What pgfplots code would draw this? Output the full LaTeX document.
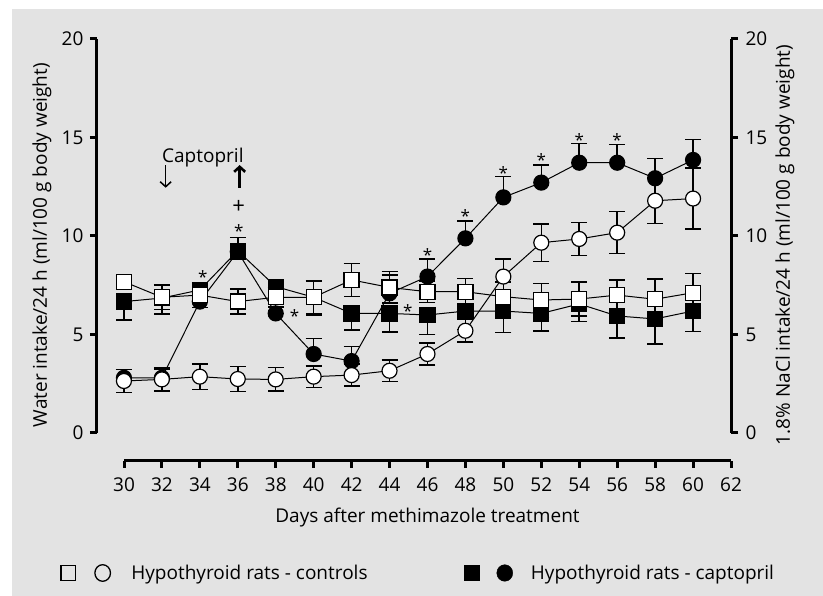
\documentclass[border=0pt]{standalone}
\usepackage{pgfplots}
\usepackage{pgfplotstable}
\pgfplotsset{compat=1.18}
\usepackage{fontspec}
\setmainfont{Open Sans}
\usetikzlibrary{arrows.meta}
\definecolor{bg}{RGB}{227,227,227}

% controls, water (open squares)
\pgfplotstableread{
day val err
30 7.68 0.30
32 6.89 0.62
34 7.00 0.64
36 6.67 0.63
38 6.89 0.50
40 6.89 0.82
42 7.77 0.84
44 7.39 0.80
46 7.17 0.55
48 7.17 0.68
50 6.92 0.75
52 6.75 0.85
54 6.80 0.86
56 7.00 0.77
58 6.79 1.03
60 7.12 0.97
}\ctrlwater

% controls, NaCl (open circles)
\pgfplotstableread{
day val err
30 2.64 0.58
32 2.72 0.60
34 2.86 0.65
36 2.74 0.63
38 2.72 0.60
40 2.86 0.55
42 2.94 0.55
44 3.16 0.55
46 4.01 0.55
48 5.19 0.56
50 7.94 0.88
52 9.66 0.95
54 9.85 0.83
56 10.17 1.07
58 11.79 1.16
60 11.90 1.55
}\ctrlnacl

% captopril, water (filled squares)
\pgfplotstableread{
day val err
30 6.67 0.93
32 6.85 0.80
34 7.26 0.50
36 9.25 0.45
38 7.43 0.50
40 6.89 0.90
42 6.07 0.85
44 6.07 0.95
46 5.99 0.98
48 6.19 0.93
50 6.19 1.10
52 6.07 0.88
54 6.55 0.90
56 5.94 1.13
58 5.79 1.26
60 6.19 1.05
}\captwater

% captopril, NaCl (filled circles)
\pgfplotstableread{
day val err
30 2.80 0.43
32 2.80 0.45
34 6.67 0.40
36 9.20 0.72
38 6.07 0.50
40 4.01 0.78
42 3.65 0.73
44 7.09 0.93
46 7.94 0.88
48 9.88 0.88
50 11.96 1.05
52 12.71 0.90
54 13.72 0.98
56 13.72 0.93
58 12.93 1.00
60 13.86 1.05
}\captnacl

\newcommand{\txt}{\fontsize{19}{22}\selectfont}

\tikzset{starlbl/.style={font=\fontsize{17}{20}\selectfont, anchor=center, yshift=-3.2pt, inner sep=0pt}}

\pgfplotsset{
  yax/.style={
    scale only axis, width=634pt, height=394pt,
    at={(97pt,163pt)}, anchor=south west,
    xmin=28.58, xmax=62, ymin=0, ymax=20,
    axis x line=none, xtick=\empty,
    ytick={0,5,...,20},
    axis line style={line width=3pt},
    tick style={line width=3pt, black},
    tick align=outside, major tick length=7pt,
    /pgf/number format/assume math mode=true,
    tick label style={font=\txt},
    label style={font=\txt},
    clip=false,
  },
  ebar/.style={error bars/.cd, y dir=#1, y explicit,
    error bar style={line width=1.5pt, black},
    error mark options={rotate=90, mark size=8pt, line width=1.5pt, black}},
  ser/.style={black, line width=1pt, mark size=7.5pt,
    mark options={draw=black, fill=#1, line width=1.2pt, solid}},
}

\begin{document}
\begin{tikzpicture}
\fill[white] (0pt,0pt) rectangle (823pt,596pt);
\fill[bg] (12pt,0pt) rectangle (823pt,587pt);

% left axis with the data
\begin{axis}[yax, axis y line*=left,
  yticklabel style={xshift=-3pt},
  ylabel={Water intake/24 h (ml/100 g body weight)},
  ylabel style={at={(axis description cs:-0.0868,0.477)}, anchor=center}]
\addplot[ser=black, mark=*, ebar=plus] table[x=day, y=val, y error=err] {\captnacl};
\addplot[ser=black, mark=square*, ebar=minus] table[x=day, y=val, y error=err] {\captwater};
\addplot[ser=white, mark=square*, ebar=both] table[x=day, y=val, y error=err] {\ctrlwater};
\addplot[ser=white, mark=*, ebar=both] table[x=day, y=val, y error=err] {\ctrlnacl};

\node[font=\txt] at (axis cs:34.16,14.0) {Captopril};
\draw[line width=1.5pt, -{Straight Barb[length=5pt, width=11pt, line width=1.5pt]}] (axis cs:32.2,13.6) -- (axis cs:32.2,12.45);
\draw[line width=2.6pt, -{Straight Barb[length=5pt, width=11pt, line width=2.6pt]}] (axis cs:36.1,12.45) -- (axis cs:36.1,13.6);

\node[starlbl] at (axis cs:34.16,8.07) {*};
\node[starlbl] at (axis cs:36.05,10.4) {*};
\node[font=\fontsize{22}{24}\selectfont, inner sep=0pt] at (axis cs:36.05,11.47) {+};
\node[starlbl] at (axis cs:39.0,6.09) {*};
\node[starlbl] at (axis cs:44.97,6.35) {*};
\node[starlbl] at (axis cs:46,9.19) {*};
\node[starlbl] at (axis cs:48,11.17) {*};
\node[starlbl] at (axis cs:50,13.35) {*};
\node[starlbl] at (axis cs:52,14.0) {*};
\node[starlbl] at (axis cs:54,15.03) {*};
\node[starlbl] at (axis cs:56,15.03) {*};
\end{axis}

% right axis
\begin{axis}[yax, axis y line*=right,
  yticklabel style={xshift=4pt},
  ylabel={1.8\% NaCl intake/24 h (ml/100 g body weight)},
  ylabel style={at={(axis description cs:1.085,0.477)}, anchor=center}]
\end{axis}

% x axis and legend
\begin{axis}[scale only axis, width=607pt, height=50pt,
  at={(124pt,135pt)}, anchor=south west,
  xmin=30, xmax=62, ymin=0, ymax=1,
  axis x line*=bottom, axis y line=none,
  xtick={30,32,...,62}, ytick=\empty,
  axis line style={line width=3pt},
  tick style={line width=3pt, black},
  tick align=outside, major tick length=7pt,
  /pgf/number format/assume math mode=true,
  tick label style={font=\txt},
  xticklabel style={yshift=-6pt},
  xlabel={Days after methimazole treatment},
  xlabel style={font=\txt, at={(axis description cs:0.5,0)}, anchor=center, yshift=-57pt},
  legend columns=2,
  legend cell align=left,
  legend style={at={(axis description cs:-0.1054,-2.24)}, anchor=west,
    draw=none, fill=none, font=\txt, inner sep=0pt,
    /tikz/every even column/.append style={column sep=94pt}},
  clip=false]
\addlegendimage{legend image code/.code={
  \draw[black, line width=1.3pt] (0.7pt,-7.8pt) rectangle (15.3pt,7.8pt);
  \draw[black, line width=1.3pt] (42.5pt,0pt) ellipse [x radius=7.8pt, y radius=8.3pt];
  \path (69pt,0pt);}}
\addlegendentry{Hypothyroid rats - controls}
\addlegendimage{legend image code/.code={
  \fill[black] (0pt,-7.5pt) rectangle (15pt,7.5pt);
  \fill[black] (41pt,0pt) ellipse [x radius=8pt, y radius=8.3pt];
  \path (65pt,0pt);}}
\addlegendentry{Hypothyroid rats - captopril}
\end{axis}
\end{tikzpicture}
\end{document}
